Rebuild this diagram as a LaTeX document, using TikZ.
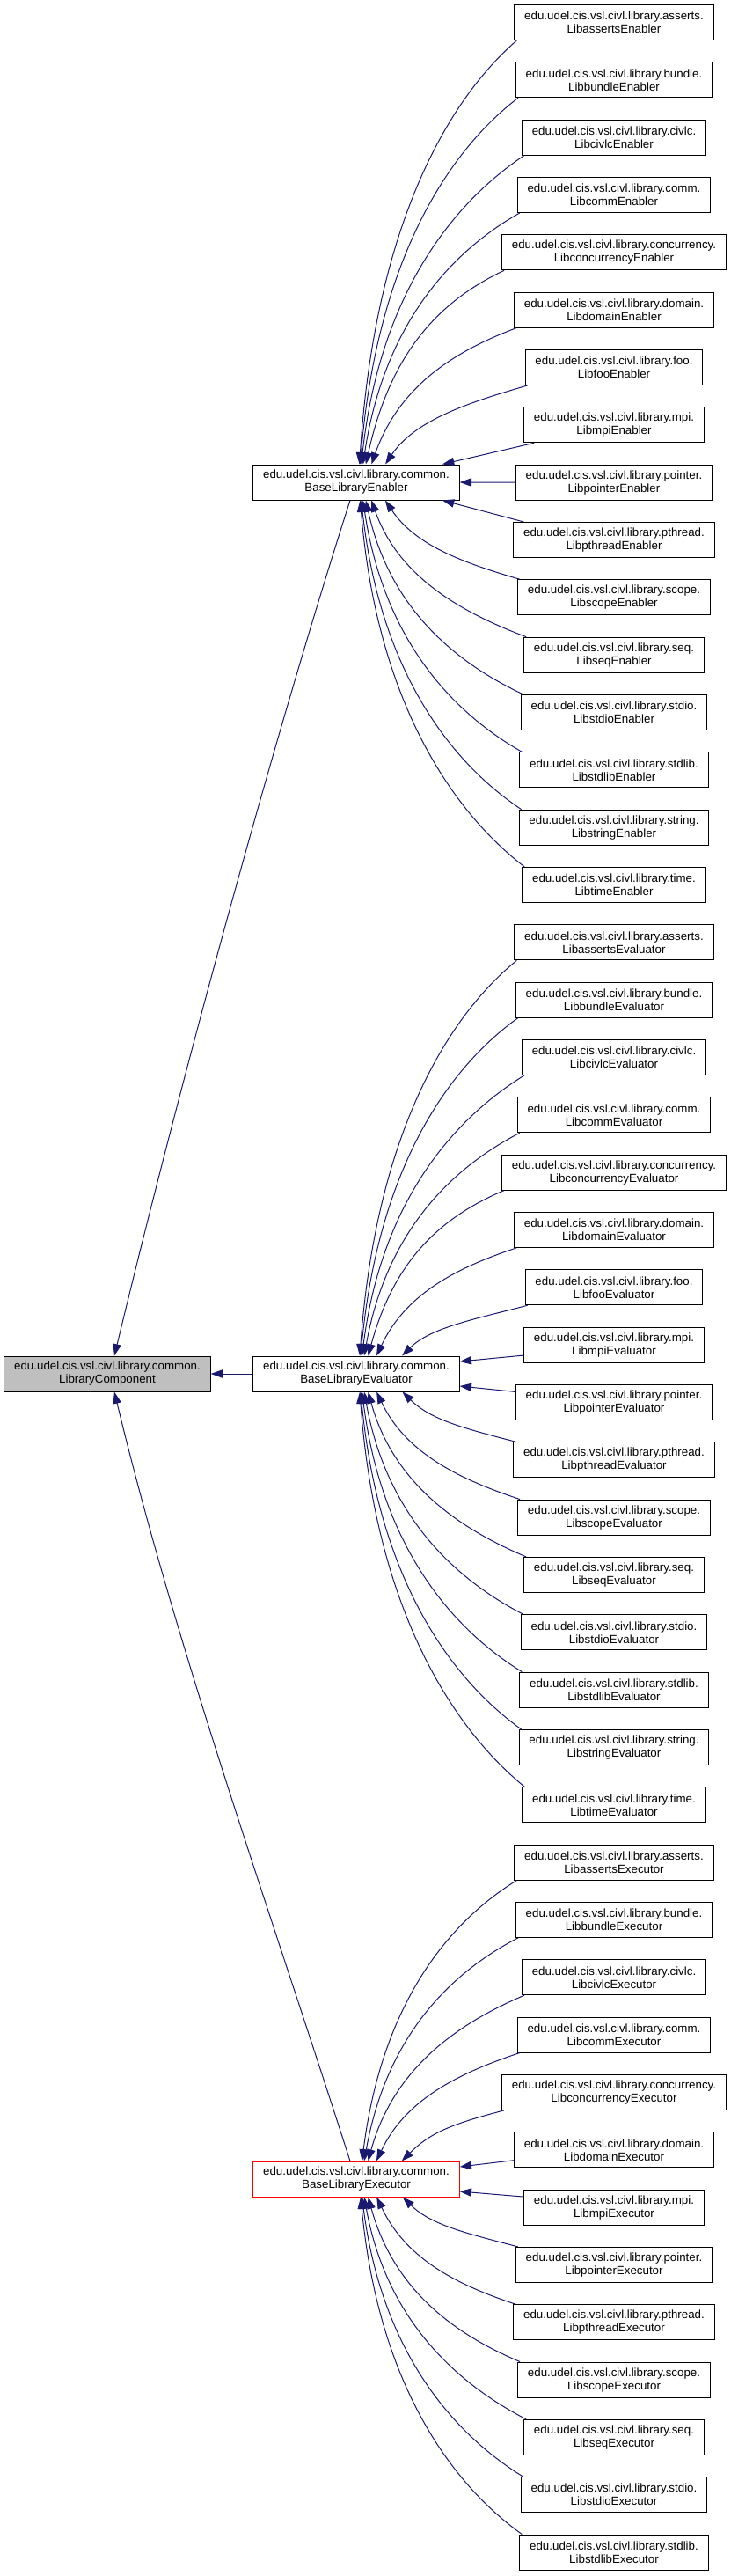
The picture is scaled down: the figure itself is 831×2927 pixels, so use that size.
\documentclass[tikz,border=0pt]{standalone}
\usepackage{fontspec}
\setmainfont{Liberation Sans}
\usetikzlibrary{arrows.meta,calc}
\definecolor{edgeblue}{HTML}{191970}
\definecolor{boxgray}{HTML}{BFBFBF}
\tikzset{
 cls/.style={draw=black, line width=0.75pt, fill=white, align=center,
   font=\fontsize{10}{11.25}\selectfont, inner xsep=8.5pt, inner ysep=0pt, minimum height=30pt},
 inh/.style={draw=edgeblue, line width=0.75pt, -{Triangle[length=10pt,width=7pt]}},
}
\newcommand\kids[4]{%
\foreach \k in {#3,...,#4}{%
 \pgfmathsetmacro\dd{(25.5+65.33*\k-#2)/65.33}%
 \pgfmathsetmacro\ad{abs(\dd)}%
 \pgfmathsetmacro\sg{ifthenelse(\dd<0,-1,1)}%
 \ifdim\dd pt<0pt \def\ca{south west}\def\pa{north}\else\def\ca{north west}\def\pa{south}\fi
 \ifdim\ad pt<0.1pt
   \draw[inh] (r\k.west) -- (#1.east);
 \else\ifdim\ad pt<0.7pt
   \draw[inh] ($(r\k.west)+(0,{0-(\sg)*12})$) -- ($(#1.east)+(0,{(\sg)*14})$);
 \else\ifdim\ad pt<1.2pt
   \draw[inh] ($(r\k.\ca)+(12,0)$) -- ($(#1.\pa)+(98,0)$);
 \else
   \pgfmathsetmacro\xe{100/(\ad^1.6)}%
   \pgfmathsetmacro\DX{185-\xe}%
   \pgfmathsetmacro\DY{\ad*65.33-40}%
   \pgfmathsetmacro\cc{0.35*\DX/(\DX+\DY)}%
   \pgfmathsetmacro\pax{-0.45*\DX}%
   \pgfmathsetmacro\pay{0-(\sg)*(0.13*\DY+8)}%
   \pgfmathsetmacro\pbx{\cc*\DX}%
   \pgfmathsetmacro\pby{(\sg)*0.55*\DY}%
   \draw[inh] ($(r\k.\ca)+(3,0)$) .. controls +(\pax,\pay) and +(\pbx,\pby) .. ($(#1.\pa)+(\xe,0)$);
 \fi\fi\fi
}}
\begin{document}
\begin{tikzpicture}[x=0.75pt,y=-0.75pt]
\useasboundingbox (0,0) rectangle (831,2927);
\node[cls, fill=boxgray] (lc) at (122,1561) {edu.udel.cis.vsl.civl.library.common.\\LibraryComponent};
\node[cls] (pen) at (405,548) {edu.udel.cis.vsl.civl.library.common.\\BaseLibraryEnabler};
\node[cls] (pev) at (405,1561) {edu.udel.cis.vsl.civl.library.common.\\BaseLibraryEvaluator};
\node[cls, draw=red] (pex) at (405,2476) {edu.udel.cis.vsl.civl.library.common.\\BaseLibraryExecutor};
\foreach \lib [count=\i from 0] in {asserts,bundle,civlc,comm,concurrency,domain,foo,mpi,pointer,pthread,scope,seq,stdio,stdlib,string,time}{
  \pgfmathsetmacro\yy{25.5+65.33*\i}
  \node[cls] (r\i) at (698,\yy) {edu.udel.cis.vsl.civl.library.\lib.\\Lib\lib Enabler};
}
\foreach \lib [count=\i from 16] in {asserts,bundle,civlc,comm,concurrency,domain,foo,mpi,pointer,pthread,scope,seq,stdio,stdlib,string,time}{
  \pgfmathsetmacro\yy{25.5+65.33*\i}
  \node[cls] (r\i) at (698,\yy) {edu.udel.cis.vsl.civl.library.\lib.\\Lib\lib Evaluator};
}
\foreach \lib [count=\i from 32] in {asserts,bundle,civlc,comm,concurrency,domain,mpi,pointer,pthread,scope,seq,stdio,stdlib}{
  \pgfmathsetmacro\yy{25.5+65.33*\i}
  \node[cls] (r\i) at (698,\yy) {edu.udel.cis.vsl.civl.library.\lib.\\Lib\lib Executor};
}
\kids{pen}{548}{0}{15}
\kids{pev}{1561}{16}{31}
\kids{pex}{2476}{32}{44}
\draw[inh] ($(pen.south)+(-7,0)$) .. controls +(-93,290) and +(70,-290) .. ($(lc.north)+(8,0)$);
\draw[inh] (pev.west) -- (lc.east);
\draw[inh] ($(pex.north)+(-7,0)$) .. controls +(-93,-290) and +(70,290) .. ($(lc.south)+(8,0)$);
\end{tikzpicture}
\end{document}
